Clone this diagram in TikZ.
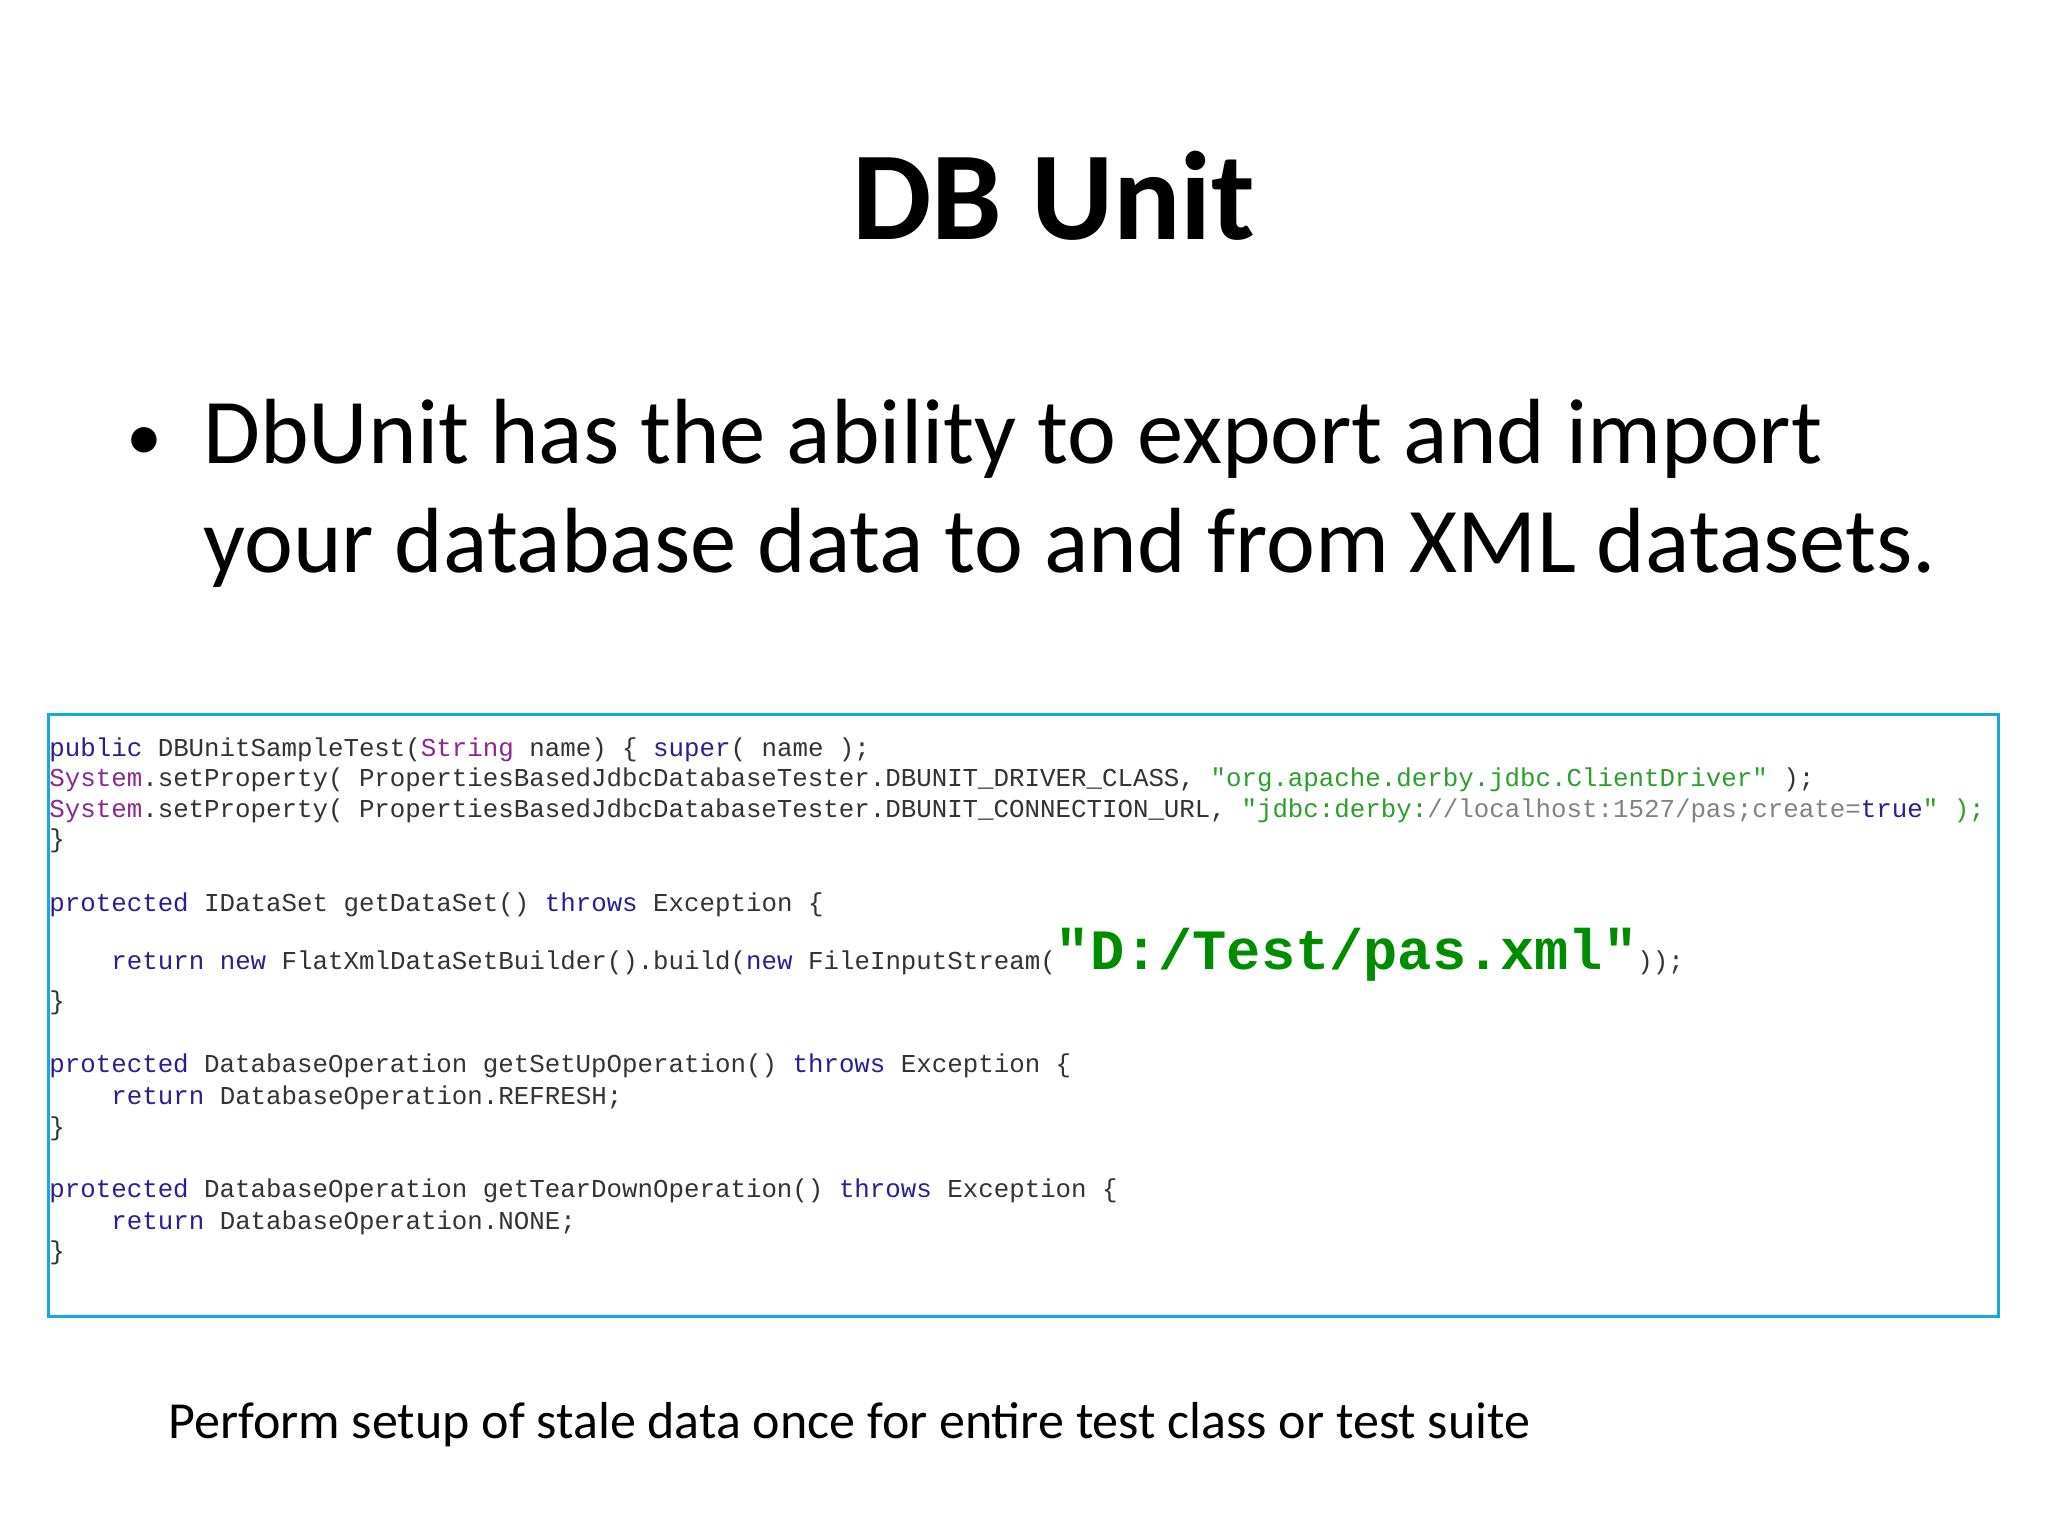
\documentclass[tikz,border=0pt]{standalone}
\usepackage{fontspec}
\setmainfont{Carlito}
\setmonofont{Liberation Mono}
\definecolor{kw}{RGB}{42,30,150}
\definecolor{ty}{RGB}{140,40,140}
\definecolor{st}{RGB}{42,160,42}
\definecolor{gr}{RGB}{130,130,130}
\definecolor{big}{RGB}{0,140,0}
\definecolor{bx}{RGB}{20,170,220}
\newcommand{\K}[1]{\textcolor{kw}{#1}}
\newcommand{\T}[1]{\textcolor{ty}{#1}}
\newcommand{\Sg}[1]{\textcolor{st}{#1}}
\newcommand{\G}[1]{\textcolor{gr}{#1}}
\begin{document}
\begin{tikzpicture}[x=0.5pt,y=-0.5pt,
  code/.style={anchor=base west,inner sep=0pt,font=\fontsize{12.9}{15}\ttfamily,text=black!80},
  lbl/.style={anchor=base west,inner sep=0pt}]
\useasboundingbox (0,0) rectangle (2048,1536);
\fill[white] (0,0) rectangle (2048,1536);
\node[inner sep=0pt,font=\fontsize{63}{70}\bfseries] (title) at (1054,196) {DB Unit};
\node[lbl,font=\fontsize{36}{50}\selectfont] (bul) at (126,460) {•};
\node[lbl,font=\fontsize{46.3}{50}\selectfont] (l1) at (203,463) {DbUnit has the ability to export and import};
\node[lbl,font=\fontsize{46.3}{50}\selectfont] (l2) at (203,572) {your database data to and from XML datasets.};
\draw[bx,line width=1.5pt] (48,714) rectangle (1998,1316);
\node[code] (c1) at (49,756) {\K{public} DBUnitSampleTest(\T{String} name) \{ \K{super}( name );};
\node[code] (c2) at (49,786) {\T{System}.setProperty( PropertiesBasedJdbcDatabaseTester.DBUNIT\_DRIVER\_CLASS, \Sg{"org.apache.derby.jdbc.ClientDriver"} );};
\node[code] (c3) at (49,817) {\T{System}.setProperty( PropertiesBasedJdbcDatabaseTester.DBUNIT\_CONNECTION\_URL, \Sg{"jdbc:derby:}\G{//localhost:1527/pas;create=}\K{true}\Sg{"} \Sg{);}};
\node[code] (c4) at (49,847) {\}};
\node[code] (c5) at (49,911) {\K{protected} IDataSet getDataSet() \K{throws} Exception \{};
\node[code] (c6) at (111,969) {\K{return} \K{new} FlatXmlDataSetBuilder().build(\K{new} FileInputStream(\textcolor{big}{\fontsize{28.5}{30}\bfseries"D:/Test/pas.xml"}));};
\node[code] (c7) at (49,1009) {\}};
\node[code] (c8) at (49,1072) {\K{protected} DatabaseOperation getSetUpOperation() \K{throws} Exception \{};
\node[code] (c9) at (111,1104) {\K{return} DatabaseOperation.REFRESH;};
\node[code] (c10) at (49,1135) {\}};
\node[code] (c11) at (49,1197) {\K{protected} DatabaseOperation getTearDownOperation() \K{throws} Exception \{};
\node[code] (c12) at (111,1229) {\K{return} DatabaseOperation.NONE;};
\node[code] (c13) at (49,1259) {\}};
\node[lbl,font=\fontsize{26}{30}\selectfont] (foot) at (168,1438) {Perform setup of stale data once for entire test class or test suite};
\end{tikzpicture}
\end{document}
